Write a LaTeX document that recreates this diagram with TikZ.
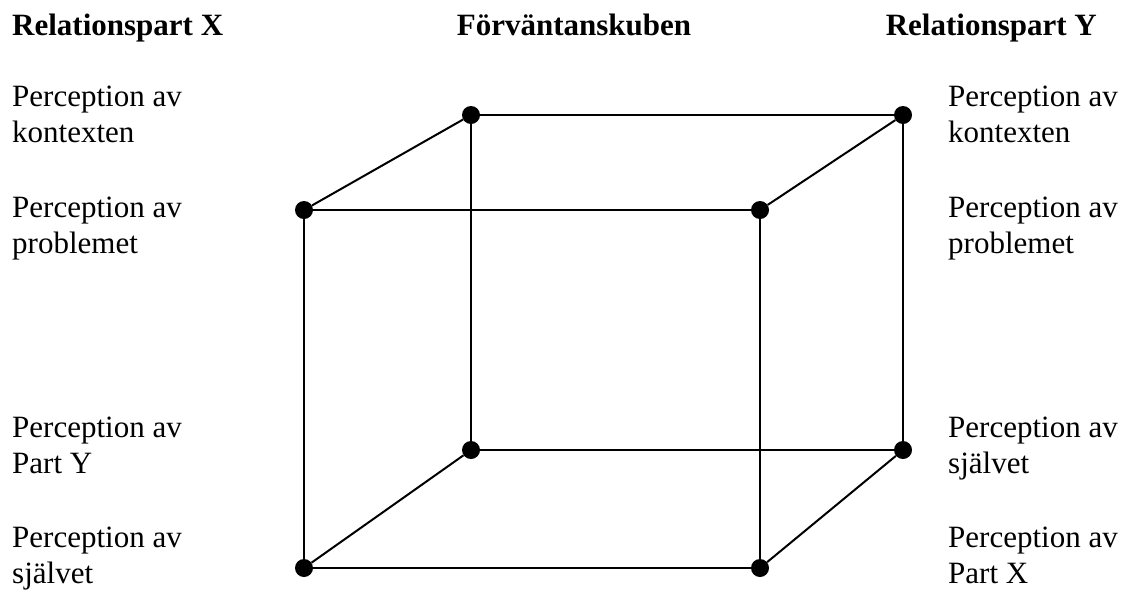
\documentclass[tikz,border=0pt]{standalone}
\usepackage{fontspec}
\setmainfont{Liberation Serif}
\usepackage{tikz}
\tikzset{
  figfont/.style={font=\fontsize{31}{36}\selectfont},
  fighead/.style={font=\fontsize{31}{36}\selectfont\bfseries, inner sep=0pt},
  figlabel/.style={figfont, align=left, inner sep=0pt, anchor=base west},
  cubedot/.style={circle, fill=black, inner sep=0pt, minimum size=18pt},
  cubeedge/.style={line width=2pt},
}

\begin{document}
\begin{tikzpicture}[x=1pt, y=-1pt]
	\useasboundingbox (0,0) rectangle (1128,590);

	% Column headers
	\node[fighead, anchor=base west] (hdrX) at (12,35) {Relationspart X};
	\node[fighead, anchor=base] (hdrcube) at (574,35) {Förväntanskuben};
	\node[fighead, anchor=base east] (hdrY) at (1097,35) {Relationspart Y};

	% Left side: party X (base = last line)
	\node[figlabel] (xcontext) at (12,142) {Perception av\\kontexten};
	\node[figlabel] (xproblem) at (12,253) {Perception av\\problemet};
	\node[figlabel] (xother) at (12,473) {Perception av\\Part Y};
	\node[figlabel] (xself) at (12,583) {Perception av\\självet};

	% Right side: party Y
	\node[figlabel] (ycontext) at (948,142) {Perception av\\kontexten};
	\node[figlabel] (yproblem) at (948,253) {Perception av\\problemet};
	\node[figlabel] (yself) at (948,473) {Perception av\\självet};
	\node[figlabel] (yother) at (948,583) {Perception av\\Part X};

	% Cube corners: front (f) and back (b)
	\node[cubedot] (ftl) at (304,210) {};
	\node[cubedot] (ftr) at (760,210) {};
	\node[cubedot] (fbl) at (304,568) {};
	\node[cubedot] (fbr) at (760,568) {};
	\node[cubedot] (btl) at (471,115) {};
	\node[cubedot] (btr) at (903,115) {};
	\node[cubedot] (bbl) at (471,450) {};
	\node[cubedot] (bbr) at (903,450) {};

	% Cube edges
	\foreach \from/\to in {ftl/ftr, ftr/fbr, fbr/fbl, fbl/ftl,
		btl/btr, btr/bbr, bbr/bbl, bbl/btl,
		ftl/btl, ftr/btr, fbl/bbl, fbr/bbr}
		\draw[cubeedge] (\from) -- (\to);
\end{tikzpicture}
\end{document}
